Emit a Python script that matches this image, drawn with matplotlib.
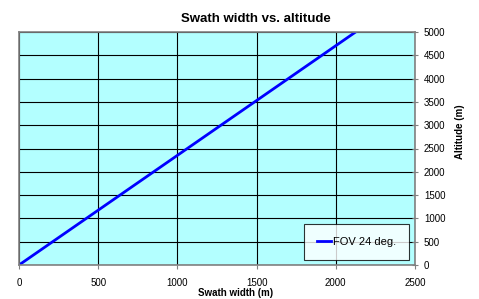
import matplotlib
matplotlib.use("Agg")
import matplotlib.pyplot as plt

plt.rcParams['font.family'] = ['Liberation Sans', 'DejaVu Sans']

altitude = [0, 1000, 2000, 3000, 4000, 5000]
swath_width = [0, 425, 850, 1275, 1700, 2125]
x_ticks = [0, 500, 1000, 1500, 2000, 2500]
y_ticks = [0, 500, 1000, 1500, 2000, 2500, 3000, 3500, 4000, 4500, 5000]

fig = plt.figure(figsize=(4.79, 2.99), dpi=100)
ax = fig.add_axes([19/479, 34/299, 396/479, 233/299])
ax.set_facecolor('#B3FFFF')
ax.plot(swath_width, altitude, color='#0000FF', lw=2, label='FOV 24 deg.', clip_on=True)
ax.set_xlim(0, 2500)
ax.set_ylim(0, 5000)
ax.set_xticks(x_ticks)
ax.set_yticks(y_ticks)
ax.grid(True, color='black', lw=0.8)
ax.set_axisbelow(True)
for s in ax.spines.values():
    s.set_color('#808080')
    s.set_linewidth(1.2)
ax.yaxis.tick_right()
ax.yaxis.set_label_position('right')
ax.tick_params(axis='y', direction='inout', length=5, color='#808080', labelsize=7, pad=4)
ax.tick_params(axis='x', direction='out', length=3, color='#808080', labelsize=7, pad=6)
ax.set_xlabel('Swath width (m)', fontsize=7, fontweight='bold', va='center')
ax.xaxis.set_label_coords((236 - 19) / 396, -27.5 / 233)
ax.set_ylabel('Altitude (m)', fontsize=7, fontweight='bold', va='center')
ax.yaxis.set_label_coords((460 - 19) / 396, (265 - 131.5) / 233)
ax.set_title('Swath width vs. altitude', fontsize=9.5, fontweight='bold', pad=7,
             x=(256 - 19) / 396)
leg = ax.legend(loc='lower right', bbox_to_anchor=(0.985, 0.02), fontsize=8, frameon=True,
                fancybox=False, edgecolor='black', handlelength=1.3, handletextpad=0.1,
                borderpad=1.2, borderaxespad=0)
leg.get_frame().set_linewidth(0.8)
leg.get_frame().set_facecolor('white')
fig.savefig('out.png', dpi=100)
